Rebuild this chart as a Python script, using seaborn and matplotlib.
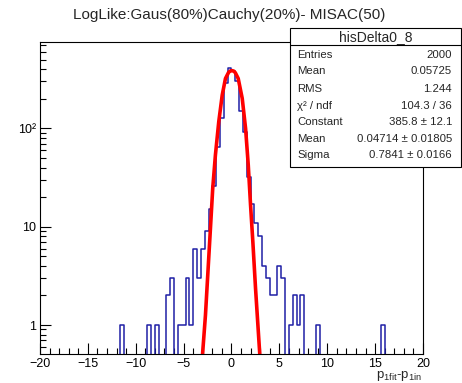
import matplotlib
matplotlib.use("Agg")
import matplotlib.pyplot as plt
from matplotlib.patches import Rectangle
from matplotlib.lines import Line2D
from matplotlib.ticker import MultipleLocator, FixedLocator, LogLocator, NullFormatter
import seaborn as sns

# Histogram hisDelta0_8 : 100 bins of 0.4 between -20 and 20 (non-empty bins only)
bin_centers = [-11.4, -8.6, -7.8, -6.6, -6.2, -5.4, -5.0, -4.6, -4.2, -3.8,
               -3.4, -3.0, -2.6, -2.2, -1.8, -1.4, -1.0, -0.6, -0.2, 0.2,
               0.6, 1.0, 1.4, 1.8, 2.2, 2.6, 3.0, 3.4, 3.8, 4.2,
               4.6, 5.0, 5.4, 6.2, 6.6, 7.0, 7.4, 9.0, 15.8]
counts = [1, 1, 1, 2, 3, 1, 1, 3, 1, 6,
          3, 6, 9, 15, 26, 64, 128, 290, 408, 388,
          305, 150, 92, 32, 17, 11, 8, 4, 3, 2,
          2, 4, 3, 1, 2, 1, 2, 1, 1]

# Gaussian fit curve
fit_x = [-3.02, -2.72, -2.44, -2.20, -1.96, -1.68, -1.33, -0.97, -0.63, -0.30, -0.12,
         0.07, 0.25, 0.40, 0.70, 1.12, 1.47, 1.75, 1.99, 2.23, 2.51, 2.80, 2.95]
fit_y = [0.51, 1.26, 3.77, 9.6, 24.6, 53.6, 117, 218, 322, 372, 384,
         387, 382, 368, 322, 202, 100, 42.4, 16.6, 7.0, 2.36, 0.86, 0.51]

title = "LogLike:Gaus(80%)Cauchy(20%)- MISAC(50)"
stats_name = "hisDelta0_8"
stats_labels = ["Entries", "Mean", "RMS", "χ² / ndf", "Constant", "Mean", "Sigma"]
stats_values = ["2000", "0.05725", "1.244", "104.3 / 36", "385.8 ± 12.1",
                "0.04714 ± 0.01805", "0.7841 ± 0.0166"]
y_ticks = [1, 10, 100]
y_ticklabels = ["1", "10", "10²"]

sns.set_style("ticks")
plt.rcParams["font.family"] = ["Liberation Sans", "DejaVu Sans"]
plt.rcParams["mathtext.fontset"] = "custom"
plt.rcParams["mathtext.rm"] = "Liberation Sans"

W, H = 462, 383
fig = plt.figure(figsize=(W / 100, H / 100), dpi=100)
ax = fig.add_axes([40 / W, 1 - 354 / H, (423 - 40) / W, (354 - 41.7) / H])


def fx(px):
    return px / W


def fy(py):
    return 1 - py / H


sns.histplot(x=bin_centers, weights=counts, bins=100, binrange=(-20, 20),
             element="step", fill=False, color="#1f1fa6", linewidth=1.1, ax=ax)
ax.set_yscale("log")
sns.lineplot(x=fit_x, y=fit_y, color="#ff0000", linewidth=2.6, sort=False, ax=ax)

ax.set_xlim(-20, 20)
ax.set_ylim(0.507, 762)
ax.set_xlabel("")
ax.set_ylabel("")

ax.xaxis.set_major_locator(MultipleLocator(5))
ax.xaxis.set_minor_locator(MultipleLocator(1))
ax.yaxis.set_major_locator(FixedLocator(y_ticks))
ax.set_yticklabels(y_ticklabels)
ax.yaxis.set_minor_locator(LogLocator(base=10, subs=[2, 3, 4, 5, 6, 7, 8, 9]))
ax.yaxis.set_minor_formatter(NullFormatter())
ax.tick_params(which="both", direction="in", colors="black", width=0.8,
               labelsize=9, top=False, right=False)
ax.tick_params(which="major", length=8, pad=3)
ax.tick_params(which="minor", length=4)
for s in ax.spines.values():
    s.set_visible(True)
    s.set_color("black")
    s.set_linewidth(0.8)

# title
fig.text(fx(229.5), fy(15), title, ha="center", va="center", fontsize=11)

# axis label
fig.text(fx(422), fy(369), r"p$_{\mathregular{1fit}}$-p$_{\mathregular{1in}}$",
         ha="right", va="top", fontsize=9.5)

# stats box
fig.add_artist(Rectangle((fx(290), fy(167.3)), fx(461) - fx(290), fy(28.3) - fy(167.3),
                         transform=fig.transFigure, facecolor="white",
                         edgecolor="black", linewidth=0.8, zorder=10))
fig.add_artist(Line2D([fx(290), fx(461)], [fy(45), fy(45)], transform=fig.transFigure,
                      color="black", linewidth=0.8, zorder=11))
fig.text(fx(375.5), fy(37), stats_name, ha="center", va="center", fontsize=10, zorder=12)
row_y = [54.5, 71.5, 89, 106, 122, 138.5, 155]
for lab, val, ry in zip(stats_labels, stats_values, row_y):
    fig.text(fx(297), fy(ry), lab, ha="left", va="center", fontsize=8.2, zorder=12)
    fig.text(fx(452), fy(ry), val, ha="right", va="center", fontsize=8.2, zorder=12)

fig.savefig("out.png", dpi=100)
